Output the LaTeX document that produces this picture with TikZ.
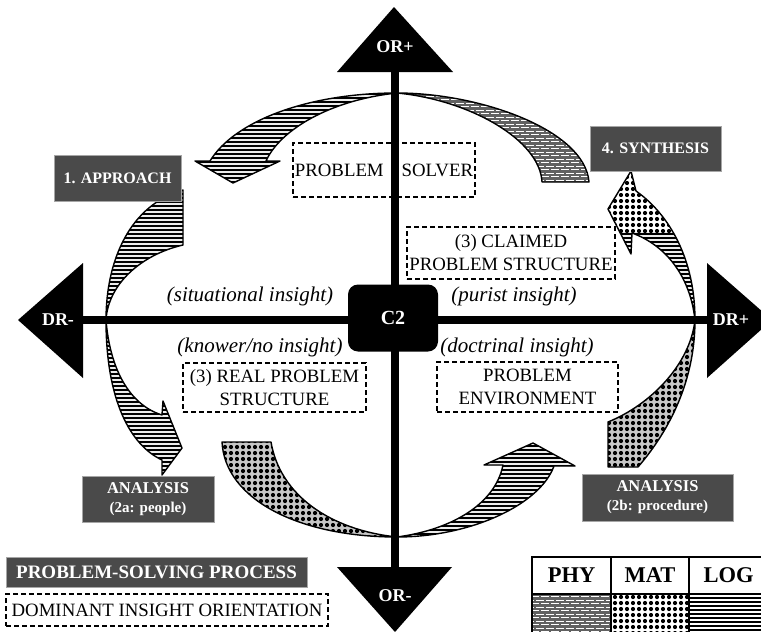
\documentclass[tikz,border=0pt]{standalone}
\usepackage{fontspec}
\setmainfont{Liberation Serif}
\definecolor{boxgray}{RGB}{74,74,74}
% hand-drawn fills (global grids)
\newcommand{\mylinegrid}[4]{\foreach \j in {#3,...,#4}{\draw[black,line width=1.8pt] (#1,4*\j+2) -- (#2,4*\j+2);}}
\newcommand{\mydotgrid}[4]{\foreach \i in {#1,...,#2}{\foreach \j in {#3,...,#4}{\fill[black] (6*\i+3,6*\j+3) circle[radius=2.1pt];}}}
\newcommand{\mybrickgrid}[4]{\foreach \j in {#3,...,#4}{\foreach \i in {#1,...,#2}{\draw[white,line width=1.2pt] ({10*\i+5*mod(\j,2)+1},{3.5*\j+1.75}) -- ++(7.5,0);}}}
\def\myarTR{(397,93) .. controls (480,93) and (585,130) .. (589,182) -- (542,182)
  .. controls (540,140) and (470,100) .. (397,93) -- cycle}
\def\myarTL{(397,93) .. controls (310,93) and (235,120) .. (210,161) -- (195,161) -- (233,183)
  -- (280,161) -- (266,161) .. controls (280,130) and (330,100) .. (397,93) -- cycle}
\def\myarL{(183,190) .. controls (130,205) and (106,260) .. (106,320)
  .. controls (106,400) and (130,445) .. (162,460) -- (162,475) -- (182,448) -- (163,401) -- (162,415)
  .. controls (130,405) and (110,370) .. (106,320) .. controls (108,285) and (140,255) .. (183,245) -- cycle}
\def\myarBL{(222,442) .. controls (225,500) and (300,537) .. (397,537)
  .. controls (330,530) and (280,495) .. (271,442) -- cycle}
\def\myarBR{(397,537) .. controls (470,537) and (540,505) .. (554,466) -- (575,466) -- (533,443)
  -- (484,465) -- (503,465) .. controls (495,505) and (450,530) .. (397,537) -- cycle}
\def\myarRL{(608,467) -- (638,467) .. controls (670,430) and (695,380) .. (695,320)
  .. controls (690,365) and (650,405) .. (608,422) -- cycle}
\def\myarRU{(695,320) .. controls (695,260) and (670,215) .. (636,191) -- (631,171) -- (608,209) -- (631,254)
  -- (632,233) .. controls (665,245) and (690,275) .. (695,320) -- cycle}
\begin{document}
\begin{tikzpicture}[x=1pt,y=-1pt,
  arrowline/.style={draw=black, line width=1.4pt, line join=round},
  dbox/.style={draw, dash pattern=on 5pt off 3pt, line width=1.4pt, inner sep=0pt, align=center,
    font=\fontsize{18.8}{23}\selectfont},
  gbox/.style={fill=boxgray, draw=gray!70, line width=0.8pt, text=white, inner sep=0pt, align=center,
    font=\bfseries\fontsize{16}{19}\selectfont},
  ilabel/.style={inner sep=0pt, font=\itshape\fontsize{21}{24}\selectfont},
  axlabel/.style={text=white, inner sep=0pt, font=\bfseries\fontsize{18}{20}\selectfont},
  cell/.style={draw, line width=1.2pt, minimum width=79pt, minimum height=37pt, inner sep=0pt,
    font=\bfseries\fontsize{22.5}{26}\selectfont}]
\useasboundingbox (0,0) rectangle (761,632);
\clip (0,0) rectangle (761,632);
\fill[white] (0,0) rectangle (761,632);

% ---- curved arrows ----
% top, right half (PHY)
\begin{scope}\clip \myarTR; \fill[black!62] (395,90) rectangle (592,185); \mybrickgrid{39}{59}{25}{53}\end{scope}
\draw[arrowline] \myarTR;
% top, left half (LOG)
\begin{scope}\clip \myarTL; \fill[gray!15] (192,90) rectangle (399,186); \mylinegrid{192}{399}{22}{46}\end{scope}
\draw[arrowline] \myarTL;
% left arrow (LOG)
\begin{scope}\clip \myarL; \fill[gray!15] (103,186) rectangle (186,478); \mylinegrid{103}{186}{46}{119}\end{scope}
\draw[arrowline] \myarL;
% bottom, left half (MAT)
\begin{scope}\clip \myarBL; \fill[gray!45] (219,439) rectangle (399,540); \mydotgrid{36}{66}{73}{89}\end{scope}
\draw[arrowline] \myarBL;
% bottom, right half (LOG)
\begin{scope}\clip \myarBR; \fill[gray!15] (395,440) rectangle (578,540); \mylinegrid{395}{578}{109}{134}\end{scope}
\draw[arrowline] \myarBR;
% right, lower half (MAT)
\begin{scope}\clip \myarRL; \fill[gray!45] (605,317) rectangle (698,470); \mydotgrid{100}{116}{52}{78}\end{scope}
\draw[arrowline] \myarRL;
% right, upper half (LOG body, MAT head)
\begin{scope}\clip \myarRU; \fill[gray!15] (605,168) rectangle (698,323); \mylinegrid{605}{698}{41}{80}
  \fill[white] (605,168) rectangle (698,232);
  \begin{scope}\clip (605,168) rectangle (698,232); \mydotgrid{100}{116}{28}{38}\end{scope}
\end{scope}
\draw[arrowline] \myarRU;

% ---- dashed boxes ----
\node[dbox, minimum width=182pt, minimum height=54pt] (solver) at (384,170) {PROBLEM\hspace{18pt}SOLVER};
\node[dbox, minimum width=208pt, minimum height=52pt] (claimed) at (511,253) {(3) CLAIMED\\PROBLEM STRUCTURE};
\node[dbox, minimum width=183pt, minimum height=49pt] (real) at (274.5,387.5) {(3) REAL PROBLEM\\STRUCTURE};
\node[dbox, minimum width=181pt, minimum height=50pt] (env) at (527.5,387) {PROBLEM\\ENVIRONMENT};

% ---- axes ----
\draw[line width=8pt] (395,70) -- (395,569);
\draw[line width=8pt] (81,320) -- (709,320);
\fill (394,7) -- (453,72) -- (337,72) -- cycle;
\fill (337,567) -- (452,567) -- (395,632) -- cycle;
\fill (18,320) -- (83,263) -- (83,378) -- cycle;
\fill (772,320) -- (707,263) -- (707,378) -- cycle;
\node[axlabel] (orp) at (395,47) {OR+};
\node[axlabel] (orm) at (395,596) {OR-};
\node[axlabel] (drm) at (58,320) {DR-};
\node[axlabel] (drp) at (731,320) {DR+};
\node[fill=black, rounded corners=10pt, minimum width=90pt, minimum height=67pt, text=white,
  font=\bfseries\fontsize{20}{24}\selectfont] (c2) at (393,318) {C2};

% ---- insight labels ----
\node[ilabel] (sit) at (250,296) {(situational insight)};
\node[ilabel] (pur) at (514,296) {(purist insight)};
\node[ilabel] (kno) at (260,347) {(knower/no insight)};
\node[ilabel] (doc) at (517,347) {(doctrinal insight)};

% ---- process boxes ----
\node[gbox, minimum width=127pt, minimum height=46pt] (approach) at (117.5,178) {1. APPROACH};
\node[gbox, minimum width=131pt, minimum height=45pt] (synth) at (655.5,148.5) {4. SYNTHESIS};
\node[gbox, minimum width=132pt, minimum height=46pt] (ana1) at (148,499)
  {\fontsize{16.5}{20}\selectfont ANALYSIS\\\fontsize{15}{20}\selectfont(2a: people)};
\node[gbox, minimum width=151pt, minimum height=47pt] (ana2) at (657.5,497.5)
  {\fontsize{16.5}{20}\selectfont ANALYSIS\\\fontsize{15}{20}\selectfont(2b: procedure)};

% ---- legend ----
\node[gbox, minimum width=301pt, minimum height=30pt, font=\bfseries\fontsize{19}{22}\selectfont] (psp) at (156.5,572) {PROBLEM-SOLVING PROCESS};
\node[dbox, minimum width=322pt, minimum height=32pt] (dio) at (167,610) {DOMINANT INSIGHT ORIENTATION};
\node[cell] (phy) at (571.5,575.5) {PHY};
\node[cell] (mat) at (650,575.5) {MAT};
\node[cell] (lg) at (728.5,575.5) {LOG};
\begin{scope}\clip (532,594) rectangle (611,634); \fill[black!62] (532,594) rectangle (611,634); \mybrickgrid{52}{61}{169}{181}\end{scope}
\begin{scope}\clip (611,594) rectangle (689,634); \mydotgrid{101}{115}{98}{105}\end{scope}
\begin{scope}\clip (689,594) rectangle (768,634); \mylinegrid{689}{768}{148}{158}\end{scope}
\draw[line width=1.2pt] (532,594) rectangle (611,634) (611,594) rectangle (689,634) (689,594) rectangle (768,634);
\end{tikzpicture}
\end{document}
